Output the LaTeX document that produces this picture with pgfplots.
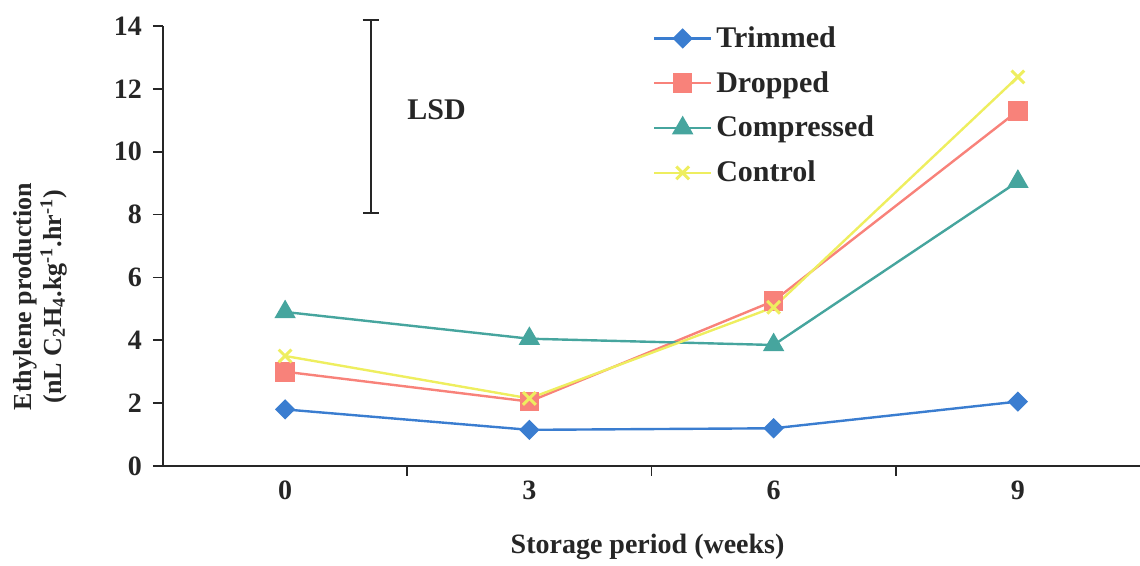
\documentclass[border=0pt]{standalone}
\usepackage{fontspec}
\setmainfont{Liberation Serif}
\usepackage{pgfplots}
\pgfplotsset{compat=1.18}
\definecolor{ctrim}{RGB}{58,125,208}
\definecolor{cdrop}{RGB}{248,130,122}
\definecolor{ccomp}{RGB}{70,165,158}
\definecolor{cctrl}{RGB}{238,238,95}
\begin{document}
\begin{tikzpicture}
\useasboundingbox (-81.5pt,-50pt) rectangle (488.5pt,233pt);
\begin{axis}[
 at={(0,0)}, anchor=south west,
 scale only axis, width=488.5pt, height=220pt,
 xmin=0, xmax=4, ymin=0, ymax=14,
 clip=false,
 axis x line*=bottom, axis y line*=left,
 axis line style={line width=1pt, black!85},
 xtick={1,2,3}, xticklabels={},
 extra x ticks={0.5,1.5,2.5,3.5}, extra x tick labels={0,3,6,9},
 extra x tick style={major tick length=0pt, xticklabel style={yshift=-4pt}},
 ytick={0,2,...,14},
 tick align=outside,
 major tick length=5pt,
 tick style={line width=0.8pt, black!85},
 /pgf/number format/assume math mode=true,
 ticklabel style={font=\bfseries\fontsize{14}{16}\selectfont, black!85},
 yticklabel style={xshift=-2pt},
 xlabel={Storage period (weeks)},
 xlabel style={at={(axis description cs:0.496,-0.183)}, anchor=center, font=\bfseries\fontsize{14}{16}\selectfont, black!85},
 ylabel={Ethylene production\\(nL C\textsubscript{2}H\textsubscript{4}.kg\textsuperscript{-1}.hr\textsuperscript{-1})},
 ylabel style={at={(axis description cs:-0.126,0.385)}, anchor=center, align=center, font=\bfseries\fontsize{13}{15}\selectfont, black!85},
 legend style={at={(axis cs:1.98,14.25)}, anchor=north west, draw=none, fill=none,
   font=\bfseries\fontsize{15}{18}\selectfont, text=black!85, row sep=6.5pt},
 legend cell align=left,
 legend image code/.code={\draw[mark repeat=2,mark phase=2,#1] plot coordinates {(0cm,0cm) (0.5cm,0cm) (1cm,0cm)};},
]
\addplot[ctrim, line width=1.2pt, mark=square*, mark size=3pt, mark options={rotate=45, fill=ctrim}]
 coordinates {(0.5,1.8) (1.5,1.15) (2.5,1.2) (3.5,2.05)};
\addlegendentry{Trimmed}
\addplot[cdrop, line width=1.2pt, mark=square*, mark size=4.3pt, mark options={fill=cdrop}]
 coordinates {(0.5,3.0) (1.5,2.05) (2.5,5.25) (3.5,11.3)};
\addlegendentry{Dropped}
\addplot[ccomp, line width=1.2pt, mark=triangle*, mark size=5pt, mark options={fill=ccomp}]
 coordinates {(0.5,4.9) (1.5,4.05) (2.5,3.85) (3.5,9.05)};
\addlegendentry{Compressed}
\addplot[cctrl, line width=1.2pt, mark=x, mark size=4.5pt, mark options={line width=1.5pt}]
 coordinates {(0.5,3.5) (1.5,2.15) (2.5,5.05) (3.5,12.38)};
\addlegendentry{Control}
\addplot[black!85, line width=1pt, forget plot, mark=none,
  error bars/.cd, y dir=both, y explicit,
  error bar style={line width=1pt, black!85},
  error mark options={rotate=90, mark size=4pt, line width=1pt, black!85}]
 coordinates {(0.85,11.125) +- (0,3.075)};
\node[font=\bfseries\fontsize{15}{18}\selectfont, black!85] at (axis cs:1.12,11.35) {LSD};
\end{axis}
\end{tikzpicture}
\end{document}
